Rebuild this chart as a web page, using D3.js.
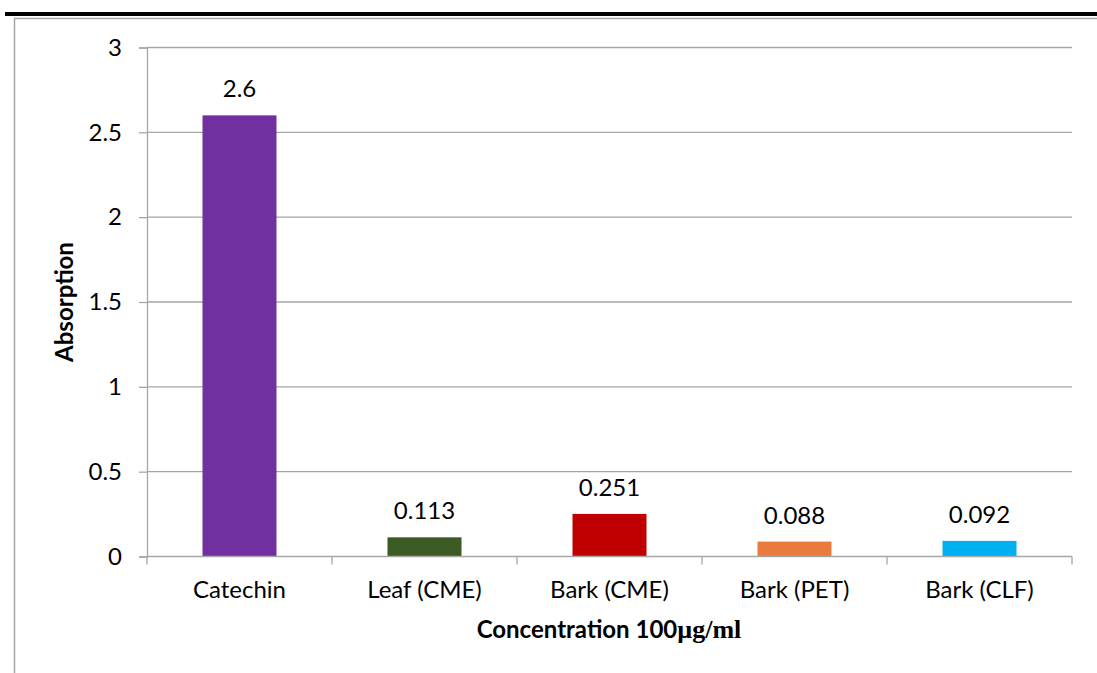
<!DOCTYPE html>
<html>
<head>
<meta charset="utf-8">
<script src="https://cdn.jsdelivr.net/npm/d3@7"></script>
<style>
  html, body { margin: 0; padding: 0; background: #fff; }
  svg { display: block; }
  text { font-family: Lato, "Open Sans", sans-serif; fill: #000; }
</style>
</head>
<body>
<svg id="chart" width="1097" height="673"></svg>
<script>
// Absorption of extracts at 100 µg/ml
const categories = ["Catechin", "Leaf (CME)", "Bark (CME)", "Bark (PET)", "Bark (CLF)"];
const values = [2.6, 0.113, 0.251, 0.088, 0.092];
const valueLabels = ["2.6", "0.113", "0.251", "0.088", "0.092"];
const colors = ["#7030A0", "#3C5A24", "#C00000", "#E97C3C", "#00B0F0"];
const yTicks = [0, 0.5, 1, 1.5, 2, 2.5, 3];
const yTickLabels = ["0", "0.5", "1", "1.5", "2", "2.5", "3"];

const svg = d3.select("#chart");

// page decoration: heavy rule and chart frame
svg.append("rect").attr("x", 5).attr("y", 12).attr("width", 1092).attr("height", 4).attr("fill", "#000");
svg.append("path")
  .attr("d", "M14.5,673 V18.5 H1097")
  .attr("fill", "none").attr("stroke", "#A6A6A6").attr("stroke-width", 1.5);

const plot = { left: 147, right: 1072, top: 47.5, bottom: 556.5 };

const x = d3.scaleBand().domain(categories).range([plot.left, plot.right]).paddingInner(0.6).paddingOuter(0.3);
const band = d3.scaleBand().domain(categories).range([plot.left, plot.right]).padding(0);
const y = d3.scaleLinear().domain([0, 3]).range([plot.bottom, plot.top]);

// horizontal gridlines
svg.append("g").selectAll("line").data(yTicks.filter(d => d > 0)).join("line")
  .attr("x1", plot.left).attr("x2", plot.right)
  .attr("y1", d => y(d)).attr("y2", d => y(d))
  .attr("stroke", "#A6A6A6").attr("stroke-width", 1.3);

// y axis
const yAxis = d3.axisLeft(y).tickValues(yTicks)
  .tickFormat((d, i) => yTickLabels[i]).tickSize(8).tickPadding(17);
const gy = svg.append("g").attr("transform", `translate(${plot.left},0)`).call(yAxis);
gy.select(".domain").attr("stroke", "#A6A6A6").attr("stroke-width", 1.3);
gy.selectAll(".tick line").attr("stroke", "#A6A6A6").attr("stroke-width", 1.3);
gy.selectAll(".tick text").style("font-family", "Lato, sans-serif").style("font-size", "24px").attr("fill", "#000");

// bars
svg.append("g").selectAll("rect").data(values).join("rect")
  .attr("x", (d, i) => x(categories[i]))
  .attr("width", x.bandwidth())
  .attr("y", d => y(d))
  .attr("height", d => y(0) - y(d))
  .attr("fill", (d, i) => colors[i]);

// value labels
svg.append("g").selectAll("text").data(values).join("text")
  .attr("x", (d, i) => x(categories[i]) + x.bandwidth() / 2)
  .attr("y", d => y(d) - 18)
  .attr("text-anchor", "middle")
  .style("font-size", "24px")
  .text((d, i) => valueLabels[i]);

// x axis with category boundary ticks
const gx = svg.append("g");
gx.append("line").attr("x1", plot.left).attr("x2", plot.right)
  .attr("y1", plot.bottom).attr("y2", plot.bottom)
  .attr("stroke", "#A6A6A6").attr("stroke-width", 1.3);
const bounds = categories.map(c => band(c)).concat([plot.right]);
gx.selectAll("line.tk").data(bounds).join("line").attr("class", "tk")
  .attr("x1", d => d).attr("x2", d => d)
  .attr("y1", plot.bottom).attr("y2", plot.bottom + 8)
  .attr("stroke", "#A6A6A6").attr("stroke-width", 1.3);
gx.selectAll("text").data(categories).join("text")
  .attr("x", d => band(d) + band.bandwidth() / 2)
  .attr("y", 598)
  .attr("text-anchor", "middle")
  .style("font-size", "24px")
  .text(d => d);

// axis titles
const xt = svg.append("text")
  .attr("x", 609).attr("y", 638)
  .attr("text-anchor", "middle")
  .style("font-size", "24px").style("font-weight", "bold");
xt.append("tspan").text("Concentration 100");
xt.append("tspan").style("font-family", "'Liberation Serif', 'Times New Roman', serif").style("font-size", "26px").text("µg/ml");

svg.append("text")
  .attr("transform", "translate(73,302) rotate(-90)")
  .attr("text-anchor", "middle")
  .style("font-size", "24px").style("font-weight", "bold")
  .text("Absorption");
</script>
</body>
</html>
